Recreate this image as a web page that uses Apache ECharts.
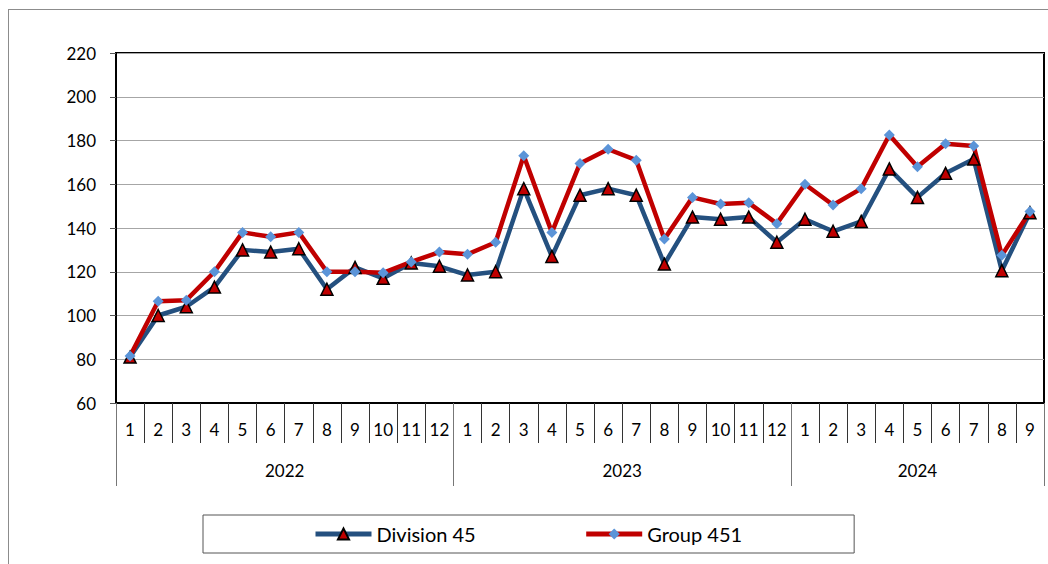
<!DOCTYPE html>
<html>
<head>
<meta charset="utf-8">
<style>
  html, body { margin: 0; padding: 0; background: #fff; }
  #wrap { position: relative; width: 1048px; height: 564px; overflow: hidden; }
  #frame { position: absolute; left: 8px; top: 9px; width: 1100px; height: 600px;
           border-left: 1px solid #8c8c8c; border-top: 1px solid #8c8c8c; pointer-events: none; }
  #chart { position: absolute; left: 0; top: 0; width: 1048px; height: 564px; }
</style>
<script src="https://cdn.jsdelivr.net/npm/echarts@6/dist/echarts.min.js"></script>
</head>
<body>
<div id="wrap">
  <div id="chart"></div>
  <div id="frame"></div>
</div>
<script>
// months shown under each point, year groups underneath
const months = ["1","2","3","4","5","6","7","8","9","10","11","12",
                "1","2","3","4","5","6","7","8","9","10","11","12",
                "1","2","3","4","5","6","7","8","9"];
const years = ["2022", "2023", "2024"];
const yearSpans = [12, 12, 9];

const division45 = [81, 100, 104, 113, 130, 129, 130.5, 112, 122, 117, 124, 122.5,
                    118.5, 120, 158, 127, 155, 158, 155, 123.5, 145, 144, 145, 133.5,
                    144, 138.5, 143, 167, 154, 165, 171.5, 120.5, 147];
const group451 = [81.5, 106.5, 107, 120, 138, 136, 138, 120, 120, 119.5, 124.5, 129,
                  128, 133.5, 173, 138, 169.5, 176, 171, 135, 154, 151, 151.5, 142,
                  160, 150.5, 158, 182.5, 168, 178.5, 177.5, 127.5, 147.5];

// second axis: half-month steps so year labels can sit between months
const halfSlots = months.length * 2 + 1;
const yearAxisData = new Array(halfSlots).fill("");
const yearLabelIdx = [];
const yearTickIdx = [0];
let pos = 0;
yearSpans.forEach((span, i) => {
  yearLabelIdx.push(pos + span);
  yearAxisData[pos + span] = years[i];
  pos += span * 2;
  yearTickIdx.push(pos);
});

const font = "Lato, 'Open Sans', sans-serif";
const myChart = echarts.init(document.getElementById("chart"), null, { renderer: "svg" });

const option = {
  animation: false,
  textStyle: { fontFamily: font },
  grid: {
    left: 116,
    right: 4,
    top: 53,
    bottom: 161,
    show: true,
    borderColor: "#000",
    borderWidth: 2,
  },
  legend: {
    left: 203,
    top: 515,
    padding: [9, 112, 9, 110],
    itemGap: 108,
    itemWidth: 56,
    itemHeight: 14,
    borderColor: "#555",
    borderWidth: 1,
    borderRadius: 0,
    lineStyle: { width: 5 },
    textStyle: {
      fontFamily: font,
      fontSize: 20,
      color: "#000",
    },
    data: ["Division 45", "Group 451"],
  },
  xAxis: [
    {
      type: "category",
      data: months,
      boundaryGap: true,
      axisLine: { lineStyle: { color: "#000", width: 2 } },
      axisTick: {
        show: true,
        interval: 0,
        length: 40,
        lineStyle: { color: "#333", width: 1 },
      },
      axisLabel: {
        interval: 0,
        margin: 18,
        fontSize: 17,
        color: "#000",
        fontFamily: font,
      },
    },
    {
      type: "category",
      data: yearAxisData,
      boundaryGap: false,
      position: "bottom",
      axisLine: { show: false },
      axisTick: {
        show: true,
        length: 83,
        interval: (idx) => yearTickIdx.includes(idx),
        lineStyle: { color: "#777", width: 1 },
      },
      axisLabel: {
        interval: (idx) => yearLabelIdx.includes(idx),
        margin: 59,
        fontSize: 17,
        color: "#000",
        fontFamily: font,
      },
    },
  ],
  yAxis: {
    type: "value",
    min: 60,
    max: 220,
    interval: 20,
    axisLine: { show: true, lineStyle: { color: "#000", width: 2 } },
    axisTick: { show: true, length: 6, lineStyle: { color: "#555" } },
    splitLine: { lineStyle: { color: "#a6a6a6", width: 1 } },
    axisLabel: {
      margin: 20,
      fontSize: 17,
      color: "#000",
      fontFamily: font,
    },
  },
  series: [
    {
      name: "Division 45",
      type: "line",
      data: division45,
      symbol: "triangle",
      symbolSize: 12,
      lineStyle: { color: "#24507f", width: 4.5 },
      itemStyle: { color: "#c00000", borderColor: "#000", borderWidth: 1.5 },
    },
    {
      name: "Group 451",
      type: "line",
      data: group451,
      symbol: "diamond",
      symbolSize: 11,
      lineStyle: { color: "#c00000", width: 4.5 },
      itemStyle: { color: "#5b94d8", borderWidth: 0 },
    },
  ],
};

myChart.setOption(option);
</script>
</body>
</html>
